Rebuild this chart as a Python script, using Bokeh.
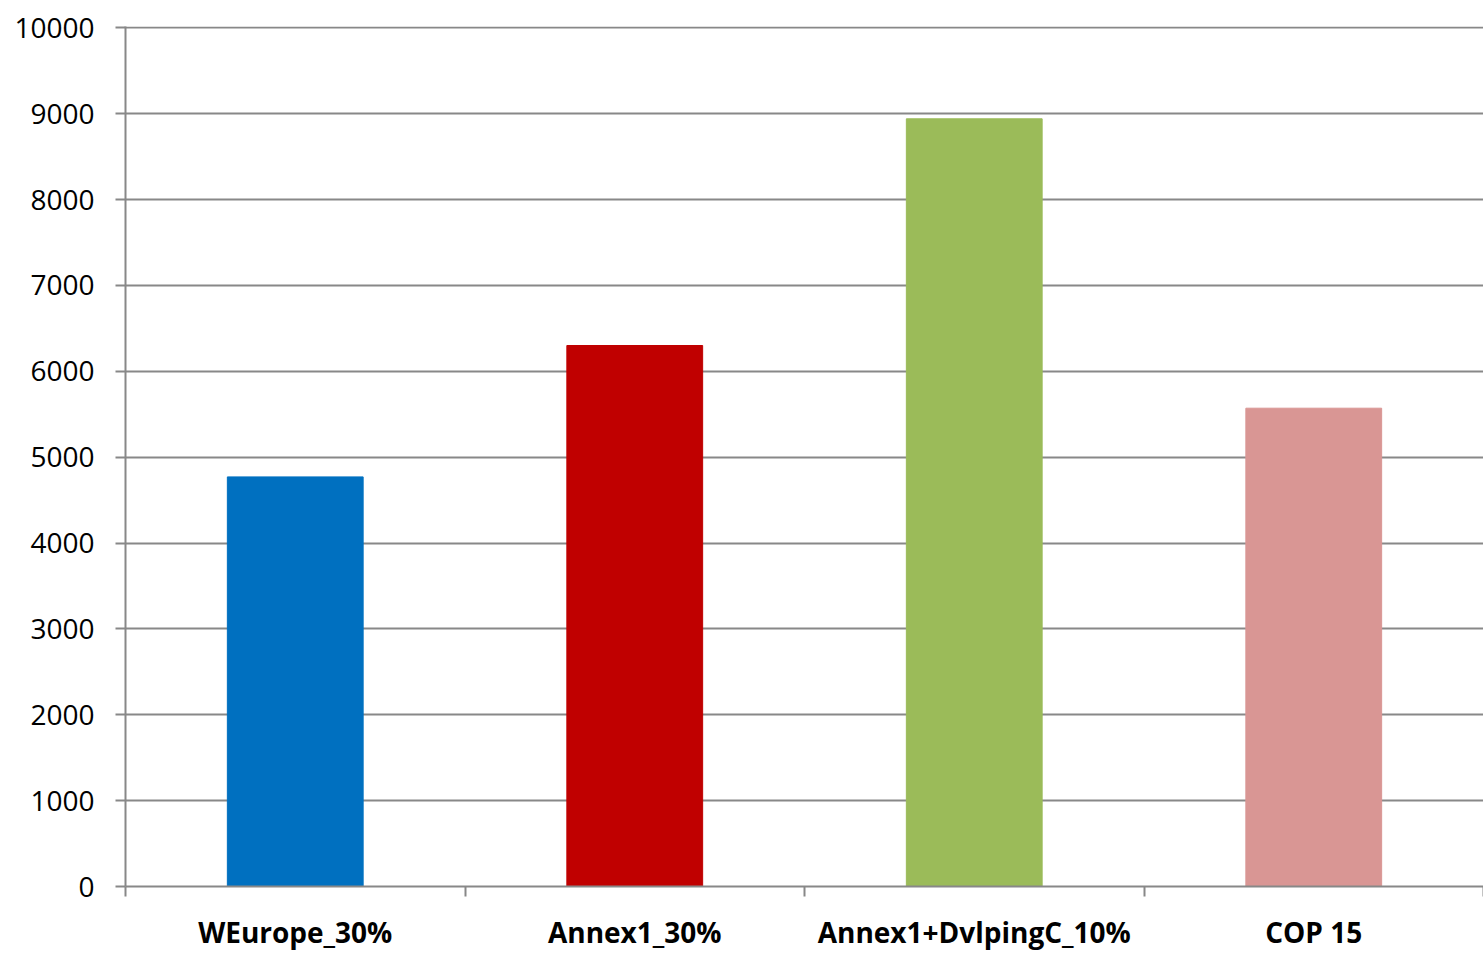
from bokeh.plotting import figure
from bokeh.models import Range1d, FixedTicker, ColumnDataSource
from bokeh.embed import file_html
from bokeh.resources import INLINE

categories = ["WEurope_30%", "Annex1_30%", "Annex1+DvlpingC_10%", "COP 15"]
values = [4770, 6300, 8940, 5570]
colors = ["#0070C0", "#C00000", "#9BBB59", "#D99694"]
y_ticks = list(range(0, 10001, 1000))

xs = [i + 0.5 for i in range(len(categories))]
src = ColumnDataSource(dict(x=xs, top=values, color=colors, name=categories))

p = figure(width=1483, height=953, output_backend="svg", toolbar_location=None,
           x_range=Range1d(0, len(categories)), y_range=Range1d(0, max(y_ticks) * 1.0015),
           min_border_left=125, min_border_right=0, min_border_top=26, min_border_bottom=60)
p.outline_line_color = None
p.background_fill_color = "white"
p.border_fill_color = "white"

p.vbar(x="x", top="top", bottom=0, width=0.4, color="color", source=src)

grid_color = "#888888"
# y axis
p.yaxis.ticker = FixedTicker(ticks=y_ticks, minor_ticks=[])
p.yaxis.axis_line_color = grid_color
p.yaxis.axis_line_width = 2
p.yaxis.major_tick_line_color = grid_color
p.yaxis.major_tick_line_width = 2
p.yaxis.major_tick_out = 10
p.yaxis.major_tick_in = 0
p.yaxis.minor_tick_line_color = None
p.yaxis.major_label_text_font = "Open Sans"
p.yaxis.major_label_text_font_size = "28px"
p.yaxis.major_label_text_color = "black"
p.yaxis.major_label_standoff = 21

# x axis
p.xaxis.ticker = FixedTicker(ticks=xs, minor_ticks=list(range(len(categories) + 1)))
p.xaxis.major_label_overrides = {x: c for x, c in zip(xs, categories)}
p.xaxis.axis_line_color = grid_color
p.xaxis.axis_line_width = 2
p.xaxis.major_tick_line_color = None
p.xaxis.major_tick_out = 0
p.xaxis.major_tick_in = 0
p.xaxis.minor_tick_line_color = grid_color
p.xaxis.minor_tick_line_width = 2
p.xaxis.minor_tick_out = 10
p.xaxis.minor_tick_in = 0
p.xaxis.major_label_text_font = "Open Sans"
p.xaxis.major_label_text_font_style = "bold"
p.xaxis.major_label_text_font_size = "28px"
p.xaxis.major_label_text_color = "black"
p.xaxis.major_label_standoff = 16

p.xgrid.grid_line_color = None
p.ygrid.ticker = FixedTicker(ticks=y_ticks)
p.ygrid.grid_line_color = grid_color
p.ygrid.grid_line_width = 2

open("out.html", "w").write(file_html(p, INLINE))
